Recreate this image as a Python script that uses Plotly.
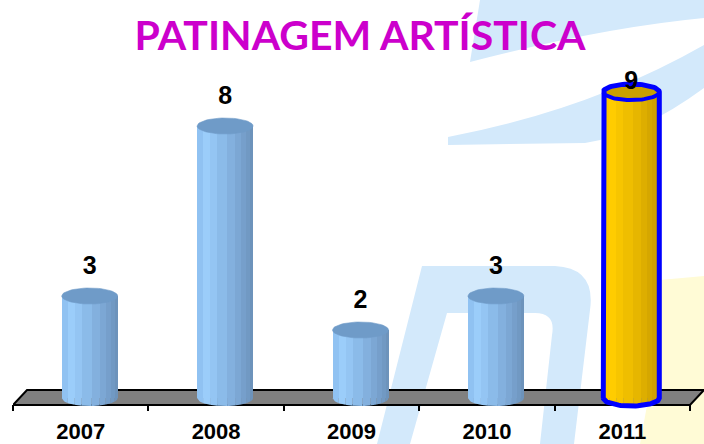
import math
import plotly.graph_objects as go

# ---- data -------------------------------------------------------------
years = ["2007", "2008", "2009", "2010", "2011"]
athletes = [3, 8, 2, 3, 9]
highlight_year = "2011"
title_text = "PATINAGEM ARTÍSTICA"

# ---- page geometry ----------------------------------------------------
W, H = 704, 444
ML, MR, MT, MB = 13, 0, 73, 33
PX_PER_CAT = 135.4          # horizontal pixels per category
PX_PER_UNIT = 34.0          # vertical pixels per athlete
ZERO_PX = 398               # pixel row of value 0 (centre of cylinder bases)

plot_w = W - ML - MR
plot_h = H - MT - MB
x_range = [-0.5, -0.5 + plot_w / PX_PER_CAT]
y_range = [(ZERO_PX - (H - MB)) / PX_PER_UNIT, (ZERO_PX - MT) / PX_PER_UNIT]

# cylinder geometry (axis units)
depth_shift = 9 / PX_PER_CAT        # bars sit mid-depth on the floor
half_w = 28 / PX_PER_CAT
cap_h = 8 / PX_PER_UNIT
label_gap = 0.82
label_ceiling = (ZERO_PX - 83) / PX_PER_UNIT

# facet boundaries across a cylinder (fraction of its width) and shades
facet_edges = [0, 6, 13, 20, 30, 38, 44, 49, 53, 56]
facet_edges = [e / 56 for e in facet_edges]
blue_shades = ["#90c2f2", "#9bcdfa", "#94c5f3", "#8bbbe9", "#83b0de",
               "#7ca7d4", "#769fcb", "#7199c3", "#6d93bb"]
gold_shades = ["#fcc800", "#ffcc00", "#f7c500", "#efbe00", "#e6b600",
               "#ddae00", "#d5a700", "#cfa100", "#c99c00"]
blue_top = "#6f9bc8"
gold_top = "#c9a000"
outline_blue = "#0000ff"

n = len(years)
xs = [i + depth_shift for i in range(n)]
is_hi = [y == highlight_year for y in years]

fig = go.Figure()

# ---- cylinder bodies: one overlaid bar per facet ------------------------
for j in range(len(blue_shades)):
    f0, f1 = facet_edges[j], facet_edges[j + 1]
    fig.add_bar(
        x=xs, y=athletes,
        width=2 * half_w * (f1 - f0),
        offset=-half_w + 2 * half_w * f0,
        marker=dict(color=[gold_shades[j] if h else blue_shades[j] for h in is_hi],
                    line=dict(width=0)),
        hoverinfo="skip", showlegend=False,
    )


def bottom_curve(xc, u0, u1, steps=5):
    pts_x, pts_y = [xc + half_w * u0], [0]
    for k in range(steps + 1):
        u = u0 + (u1 - u0) * k / steps
        pts_x.append(xc + half_w * u)
        pts_y.append(-cap_h * math.sqrt(max(0.0, 1 - u * u)))
    pts_x.append(xc + half_w * u1)
    pts_y.append(0)
    return pts_x, pts_y


# ---- rounded bottoms of the cylinders ----------------------------------
for j in range(len(blue_shades)):
    u0 = -1 + 2 * facet_edges[j]
    u1 = -1 + 2 * facet_edges[j + 1]
    for group, shade in ((False, blue_shades[j]), (True, gold_shades[j])):
        bx, by = [], []
        for xc, h in zip(xs, is_hi):
            if h != group:
                continue
            px, py = bottom_curve(xc, u0, u1)
            bx += px + [None]
            by += py + [None]
        if bx:
            fig.add_scatter(x=bx, y=by, mode="lines", fill="toself",
                            fillcolor=shade, line=dict(width=0, color=shade),
                            hoverinfo="skip", showlegend=False)

# ---- top faces ----------------------------------------------------------
ring = [2 * math.pi * k / 60 for k in range(61)]
for group, colour in ((False, blue_top), (True, gold_top)):
    tx, ty = [], []
    for xc, v, h in zip(xs, athletes, is_hi):
        if h != group:
            continue
        tx += [xc + half_w * math.cos(t) for t in ring] + [None]
        ty += [v + cap_h * math.sin(t) for t in ring] + [None]
    fig.add_scatter(x=tx, y=ty, mode="lines", fill="toself", fillcolor=colour,
                    line=dict(width=0.6, color=colour),
                    hoverinfo="skip", showlegend=False)

# ---- outline of the highlighted cylinder --------------------------------
for xc, v, h in zip(xs, athletes, is_hi):
    if not h:
        continue
    half = [math.pi * k / 40 for k in range(41)]
    ox = [xc - half_w] + [xc - half_w * math.cos(t) for t in half] + [xc + half_w]
    oy = [0] + [v + cap_h * math.sin(t) for t in half] + [0]
    ox += [xc + half_w * math.cos(t) for t in half]
    oy += [-cap_h * math.sin(t) for t in half]
    fig.add_scatter(x=ox, y=oy, mode="lines",
                    line=dict(width=5, color=outline_blue),
                    hoverinfo="skip", showlegend=False)
    fig.add_scatter(x=[xc + half_w * math.cos(t) for t in half],
                    y=[v - cap_h * math.sin(t) for t in half], mode="lines",
                    line=dict(width=4, color=outline_blue),
                    hoverinfo="skip", showlegend=False)

# ---- value labels -------------------------------------------------------
fig.add_scatter(
    x=xs, y=[min(v + label_gap, label_ceiling) for v in athletes],
    mode="text", text=[str(v) for v in athletes], textposition="middle center",
    textfont=dict(family="Liberation Sans, Arial, sans-serif", size=25,
                  color="#000000", weight="bold"),
    hoverinfo="skip", showlegend=False, cliponaxis=False,
)

# ---- floor and background artwork ---------------------------------------
floor_front = (ZERO_PX - 405) / PX_PER_UNIT
floor_back = (ZERO_PX - 390) / PX_PER_UNIT
floor_dx = 14 / PX_PER_CAT
floor_path = (f"M{-0.5},{floor_front} L{-0.5 + floor_dx},{floor_back} "
              f"L{n - 0.5 + floor_dx},{floor_back} L{n - 0.5},{floor_front} Z")


def paper_path(cmds):
    """Build an SVG path in paper units from pixel-space commands."""
    out = []
    for cmd in cmds:
        op, pts = cmd[0], cmd[1:]
        coords = []
        for k in range(0, len(pts), 2):
            px, py = pts[k], pts[k + 1]
            coords.append(f"{(px - ML) / plot_w:.5f},{(H - MB - py) / plot_h:.5f}")
        out.append(op + " ".join(coords))
    return " ".join(out) + " Z"


wash_blue = "#d3e9fb"
wash_yellow = "#fffbd6"
artwork = [
    (wash_blue, [("M", 480, 0), ("L", 704, 0), ("L", 704, 18),
                 ("Q", 600, 28, 470, 62)]),
    (wash_blue, [("M", 448, 137), ("Q", 590, 110, 704, 45), ("L", 704, 88),
                 ("Q", 640, 135, 585, 143), ("L", 448, 145)]),
    (wash_blue, [("M", 377, 444), ("L", 422, 266), ("L", 555, 266),
                 ("Q", 596, 268, 590, 310), ("L", 574, 444), ("L", 540, 444),
                 ("L", 552, 335), ("Q", 556, 313, 535, 313), ("L", 447, 313),
                 ("L", 410, 444)]),
    (wash_yellow, [("M", 660, 280), ("L", 704, 276), ("L", 704, 444),
                   ("L", 640, 444), ("L", 648, 400)]),
]
shapes = []
for colour, cmds in artwork:
    shapes.append(dict(type="path", xref="paper", yref="paper",
                       path=paper_path(cmds), fillcolor=colour,
                       line=dict(width=0), layer="below"))
shapes.append(dict(type="path", xref="x", yref="y", path=floor_path,
                   fillcolor="#808080", line=dict(color="#000000", width=2),
                   layer="below"))

fig.update_layout(
    width=W, height=H,
    margin=dict(l=ML, r=MR, t=MT, b=MB, pad=0),
    paper_bgcolor="#ffffff", plot_bgcolor="rgba(0,0,0,0)",
    barmode="overlay", bargap=0,
    showlegend=False,
    shapes=shapes,
    title=dict(text=title_text, x=360 / W, xanchor="center",
               y=1 - 36 / H, yanchor="middle",
               font=dict(family="Lato, sans-serif", size=41, color="#cc00cc",
                         weight="bold")),
    xaxis=dict(range=x_range, tickvals=list(range(n)), ticktext=years,
               ticks="", showline=False, showgrid=False, zeroline=False,
               ticklabelstandoff=5,
               tickfont=dict(family="Liberation Sans Narrow, Arial Narrow, Liberation Sans, sans-serif",
                             size=22, color="#000000", weight="bold"),
               minor=dict(tickvals=[i - 0.5 for i in range(n + 1)],
                          ticks="inside", ticklen=6, tickwidth=1.5,
                          tickcolor="#000000", showgrid=False),
               fixedrange=True),
    yaxis=dict(range=y_range, visible=False, fixedrange=True),
)

fig.write_html("out.html")
